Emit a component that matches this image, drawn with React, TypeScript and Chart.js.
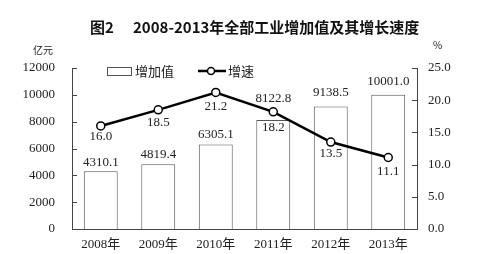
import React, { useEffect, useRef } from "react";
import { Chart, registerables } from "chart.js";

Chart.register(...registerables);

const categories = ["2008年", "2009年", "2010年", "2011年", "2012年", "2013年"];
const addedValue = [4310.1, 4819.4, 6305.1, 8122.8, 9138.5, 10001.0];
const growthRate = [16.0, 18.5, 21.2, 18.2, 13.5, 11.1];
const leftTicks = [0, 2000, 4000, 6000, 8000, 10000, 12000];
const rightTicks = [0, 5, 10, 15, 20, 25];

const titleLead = "图2";
const titleText = "2008-2013年全部工业增加值及其增长速度";
const leftUnit = "亿元";
const rightUnit = "%";
const barLegend = "增加值";
const lineLegend = "增速";

// layout: label nudges (pixels) to mimic the original placement
const barLabelLift = [9, 10, 10, 21, 14, 13];
const lineLabelDrop = [11, 13, 14, 16, 12, 14];

const FONT = "'Liberation Serif', 'Noto Sans CJK SC', serif";
const CJK = "'Noto Sans CJK SC', 'Liberation Serif', sans-serif";
const TEXT = "#222";
const AXIS = "#444";

const overlay = {
  id: "overlay",
  afterDraw(chart: any) {
    const ctx = chart.ctx;
    const area = chart.chartArea;
    const yS = chart.scales.y;
    const y1S = chart.scales.y1;
    ctx.save();
    ctx.strokeStyle = AXIS;
    ctx.lineWidth = 1;
    leftTicks.forEach((v) => {
      const py = Math.round(yS.getPixelForValue(v)) + 0.5;
      ctx.beginPath();
      ctx.moveTo(area.left, py);
      ctx.lineTo(area.left + 5, py);
      ctx.stroke();
    });
    rightTicks.forEach((v) => {
      const py = Math.round(y1S.getPixelForValue(v)) + 0.5;
      ctx.beginPath();
      ctx.moveTo(area.right, py);
      ctx.lineTo(area.right - 5, py);
      ctx.stroke();
    });

    ctx.fillStyle = "#111";
    ctx.font = `bold 15px ${CJK}`;
    ctx.textBaseline = "middle";
    ctx.textAlign = "left";
    ctx.fillText(titleLead, 90, 27);
    ctx.fillText(titleText, 133, 27);

    ctx.fillStyle = TEXT;
    ctx.font = `10px ${CJK}`;
    ctx.fillText(leftUnit, 33, 50);
    ctx.fillText(rightUnit, 433, 45);

    ctx.fillStyle = "#fff";
    ctx.strokeStyle = "#555";
    ctx.lineWidth = 1;
    ctx.fillRect(107.5, 67.5, 24, 8);
    ctx.strokeRect(107.5, 67.5, 24, 8);
    ctx.fillStyle = TEXT;
    ctx.font = `13px ${CJK}`;
    ctx.fillText(barLegend, 135, 71);
    ctx.strokeStyle = "#000";
    ctx.lineWidth = 2.5;
    ctx.beginPath();
    ctx.moveTo(198, 71);
    ctx.lineTo(226, 71);
    ctx.stroke();
    ctx.beginPath();
    ctx.arc(211, 71, 3.5, 0, Math.PI * 2);
    ctx.fillStyle = "#fff";
    ctx.fill();
    ctx.lineWidth = 1.5;
    ctx.stroke();
    ctx.fillStyle = TEXT;
    ctx.fillText(lineLegend, 228, 71);

    ctx.font = `13px ${FONT}`;
    ctx.textAlign = "center";
    ctx.textBaseline = "middle";
    const barMeta = chart.getDatasetMeta(0);
    barMeta.data.forEach((el: any, i: number) => {
      ctx.fillText(addedValue[i].toFixed(1), el.x, el.y - barLabelLift[i]);
    });
    const lineMeta = chart.getDatasetMeta(1);
    lineMeta.data.forEach((el: any, i: number) => {
      ctx.fillText(growthRate[i].toFixed(1), el.x, el.y + lineLabelDrop[i]);
    });
    ctx.restore();
  },
};

export default function App() {
  const ref = useRef<HTMLCanvasElement | null>(null);
  useEffect(() => {
    if (!ref.current) return;
    const chart = new Chart(ref.current, {
      type: "bar",
      data: {
        labels: categories,
        datasets: [
          {
            type: "bar",
            label: barLegend,
            data: addedValue,
            yAxisID: "y",
            backgroundColor: "#ffffff",
            borderColor: "#555",
            borderWidth: 1,
            categoryPercentage: 1,
            barPercentage: 0.59,
            order: 2,
          },
          {
            type: "line",
            label: lineLegend,
            data: growthRate,
            yAxisID: "y1",
            borderColor: "#000",
            borderWidth: 2.5,
            pointRadius: 4,
            pointBackgroundColor: "#fff",
            pointBorderColor: "#000",
            pointBorderWidth: 1.5,
            tension: 0,
            order: 1,
          },
        ],
      },
      options: {
        responsive: false,
        animation: false,
        devicePixelRatio: 1,
        layout: { padding: { top: 68, left: 0, right: 0, bottom: 0 } },
        plugins: { legend: { display: false }, tooltip: { enabled: false }, title: { display: false } },
        scales: {
          x: {
            offset: true,
            grid: { display: false, drawTicks: false },
            border: { display: true, color: AXIS, width: 1 },
            ticks: { color: TEXT, font: { size: 13, family: FONT }, padding: 8, maxRotation: 0 },
            afterFit: (s: any) => { s.height = 25; },
          },
          y: {
            position: "left",
            min: 0,
            max: 12000,
            grid: { display: false, drawTicks: false },
            border: { display: true, color: AXIS, width: 1 },
            afterBuildTicks: (s: any) => { s.ticks = leftTicks.map((v) => ({ value: v })); },
            ticks: { color: TEXT, font: { size: 13, family: FONT }, padding: 17, callback: (v: any) => String(v) },
            afterFit: (s: any) => { s.width = 72; },
          },
          y1: {
            position: "right",
            min: 0,
            max: 25,
            grid: { display: false, drawTicks: false },
            border: { display: true, color: AXIS, width: 1 },
            afterBuildTicks: (s: any) => { s.ticks = rightTicks.map((v) => ({ value: v })); },
            ticks: { color: TEXT, font: { size: 13, family: FONT }, padding: 11, callback: (v: any) => Number(v).toFixed(1) },
            afterFit: (s: any) => { s.width = 60; },
          },
        },
      },
      plugins: [overlay],
    } as any);
    return () => chart.destroy();
  }, []);
  return (
    <div style={{ position: "absolute", left: 0, top: 0, width: 477, height: 254, background: "#fff" }}>
      <canvas ref={ref} width={477} height={254} style={{ display: "block", width: 477, height: 254 }} />
    </div>
  );
}
